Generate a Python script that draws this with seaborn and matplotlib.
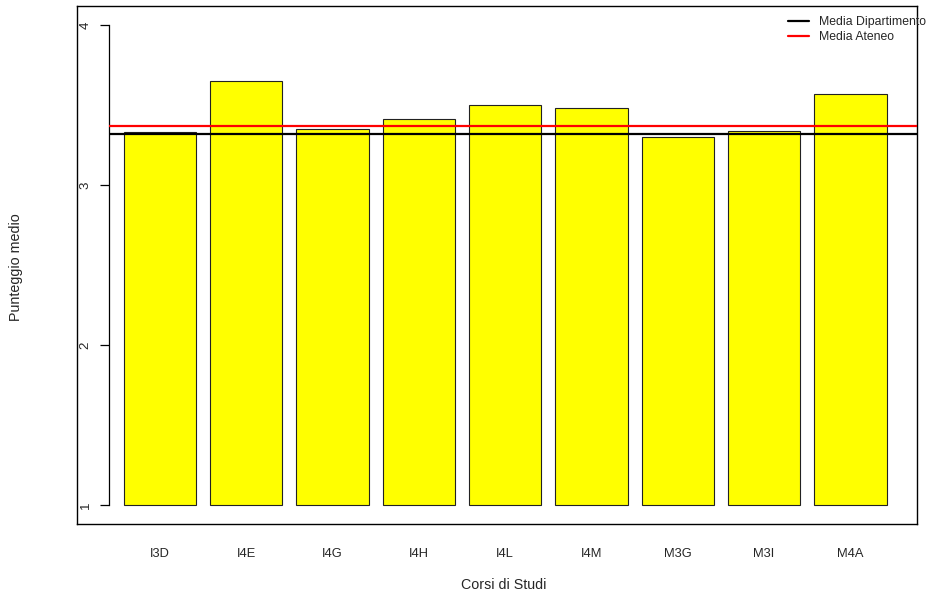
import matplotlib
matplotlib.use("Agg")
import matplotlib.pyplot as plt
from matplotlib.lines import Line2D
import seaborn as sns
import pandas as pd

# ---- data ----
corsi = ["I3D", "I4E", "I4G", "I4H", "I4L", "I4M", "M3G", "M3I", "M4A"]
punteggi = [3.33, 3.65, 3.35, 3.41, 3.50, 3.48, 3.30, 3.34, 3.57]
media_dipartimento = 3.32
media_ateneo = 3.37
y_ticks = [1, 2, 3, 4]
legend_labels = ["Media Dipartimento", "Media Ateneo"]

sns.set_style("white")
plt.rcParams["font.family"] = ["Liberation Sans", "DejaVu Sans"]

W, H = 931, 597
fig = plt.figure(figsize=(W / 100, H / 100), dpi=100)

# outer frame (box)
fx0, fx1, fy0, fy1 = 77, 917, 6, 524
frame = fig.add_axes([fx0 / W, 1 - fy1 / H, (fx1 - fx0) / W, (fy1 - fy0) / H])
frame.set_xticks([]); frame.set_yticks([])
for s in frame.spines.values():
    s.set_color("black"); s.set_linewidth(1.0)
frame.set_facecolor("white")

# plot region
px0 = 109
ax = fig.add_axes([px0 / W, 1 - fy1 / H, (fx1 - px0) / W, (fy1 - fy0) / H])
ax.set_facecolor("none")

df = pd.DataFrame({"Corso": corsi, "Punteggio": punteggi})
sns.barplot(data=df, x="Corso", y="Punteggio", order=corsi, color="#FFFF00",
            saturation=1, edgecolor="#222222", linewidth=0.8, width=0.838, ax=ax)
# bars start at 1 as in the original
for p in ax.patches:
    h = p.get_height()
    p.set_y(1)
    p.set_height(h - 1)

ax.axhline(media_dipartimento, color="black", lw=1.6, zorder=5)
ax.axhline(media_ateneo, color="red", lw=1.6, zorder=5)

ax.set_xlim(-0.591, 8.772)
ax.set_ylim(1 - 19 / 160, 4 + 19 / 160)

for side in ["top", "right", "bottom"]:
    ax.spines[side].set_visible(False)
ax.spines["left"].set_bounds(1, 4)
ax.spines["left"].set_color("black")
ax.spines["left"].set_linewidth(0.9)

ax.set_yticks(y_ticks)
ax.set_yticklabels([str(t) for t in y_ticks], rotation=90, va="center", fontsize=9.6)
ax.tick_params(axis="y", left=True, length=6.5, width=0.9, color="black", pad=6)
ax.tick_params(axis="x", bottom=False, length=0, pad=17, labelsize=9.3)

ax.set_xlabel("Corsi di Studi", fontsize=10.3)
ax.set_ylabel("Punteggio medio", fontsize=10.3)
ax.xaxis.set_label_coords((504 - px0) / (fx1 - px0), (fy1 - 585) / (fy1 - fy0))
ax.xaxis.label.set_va("center")
ax.yaxis.set_label_coords((16 - px0) / (fx1 - px0), (fy1 - 267) / (fy1 - fy0))
ax.yaxis.label.set_va("center")

handles = [Line2D([0], [0], color="black", lw=1.6), Line2D([0], [0], color="red", lw=1.6)]
fig.legend(handles, legend_labels, loc="upper left", bbox_to_anchor=(788 / W, 1 - 16.5 / H),
           frameon=False, fontsize=8.8, borderpad=0, borderaxespad=0,
           handlelength=1.75, handletextpad=0.8, labelspacing=0.2)

fig.savefig("out.png", dpi=100)
